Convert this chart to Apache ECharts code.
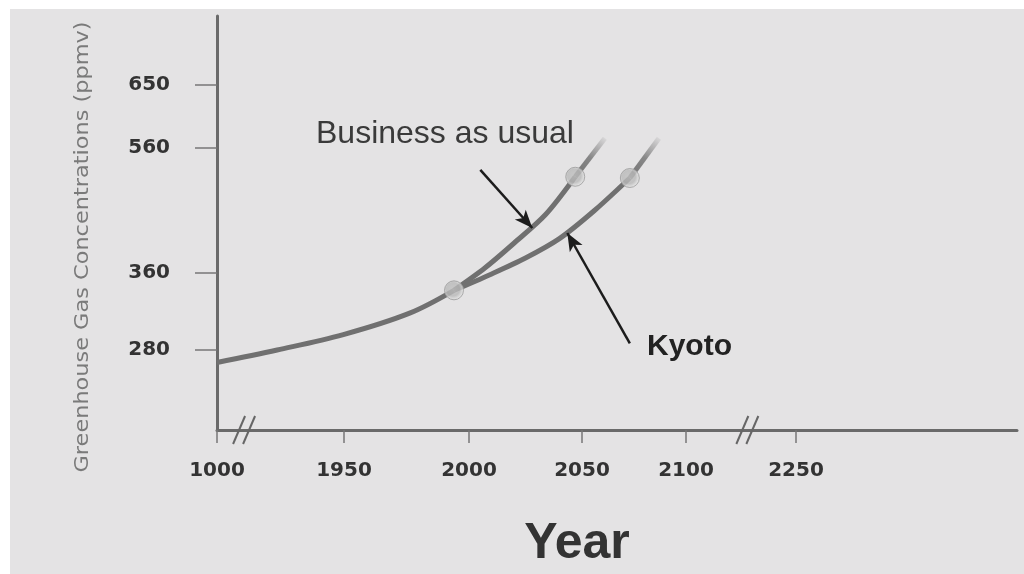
<!DOCTYPE html>
<html>
<head>
<meta charset="utf-8">
<script src="https://cdn.jsdelivr.net/npm/echarts@6/dist/echarts.min.js"></script>
<style>
html,body{margin:0;padding:0;background:#fff;}
#c{width:1024px;height:574px;background:#e4e3e4;box-shadow:inset 10px 9px 0 #fff;}
</style>
</head>
<body>
<div id="c"></div>
<script>
// ---- data ----
const yearTicks = [1000, 1950, 2000, 2050, 2100, 2250];
const ppmTicks = [280, 360, 560, 650];

const histYears = [1000, 1450, 1945, 1976, 1994];
const histPpm   = [267, 280, 296, 318, 342];

const bauYears = [1994, 2007, 2020, 2034, 2047];
const bauPpm   = [342, 368, 408, 454, 514];
const bauTailYears = [2047, 2061];
const bauTailPpm   = [514, 574];

const kyotoYears = [1994, 2009, 2025, 2040, 2056, 2073];
const kyotoPpm   = [342, 358, 384, 415, 460, 512];
const kyotoTailYears = [2073, 2087];
const kyotoTailPpm   = [512, 574];

const markerYears = [1994, 2047, 2073];
const markerPpm   = [342, 514, 512];

const axisBreakYears = [1210, 2185];

// ---- schematic (non-linear) axis scales ----
const xDomain = [1000, 1950, 2000, 2050, 2100, 2250, 2450];
const xUnits  = [0, 1.27, 2.52, 3.65, 4.69, 5.79, 8.0];
const yDomain = [197, 280, 360, 560, 650, 748];
const yUnits  = [0, 0.80, 1.57, 2.82, 3.45, 4.14];

function interp(v, d, r) {
  let i = 0;
  while (i < d.length - 2 && v > d[i + 1]) i++;
  return r[i] + (v - d[i]) / (d[i + 1] - d[i]) * (r[i + 1] - r[i]);
}
const fx = v => interp(v, xDomain, xUnits);
const fy = v => interp(v, yDomain, yUnits);
function labelFor(v, units, domain, ticks) {
  for (let i = 0; i < units.length; i++) {
    if (Math.abs(units[i] - v) < 1e-6 && ticks.indexOf(domain[i]) >= 0) return String(domain[i]);
  }
  return '';
}
const pts = (xs, ys) => xs.map((x, i) => [fx(x), fy(ys[i])]);

const lineColor = '#707070';
const fadeColor = {
  type: 'linear', x: 0, y: 1, x2: 1, y2: 0,
  colorStops: [{offset: 0, color: 'rgba(112,112,112,1)'}, {offset: 0.5, color: 'rgba(112,112,112,0.8)'}, {offset: 1, color: 'rgba(112,112,112,0)'}]
};

const chart = echarts.init(document.getElementById('c'));
chart.setOption({
  animation: false,
  grid: {left: 217, top: 16, width: 800, height: 414, containLabel: false},
  xAxis: {
    type: 'value', min: 0, max: xUnits[xUnits.length - 1],
    splitLine: {show: false},
    axisLine: {lineStyle: {color: '#6a6a6a', width: 3}},
    axisTick: {customValues: yearTicks.map(fx), length: 13, lineStyle: {color: '#777', width: 1.5}},
    axisLabel: {
      customValues: yearTicks.map(fx), margin: 31,
      formatter: v => labelFor(v, xUnits, xDomain, yearTicks),
      fontFamily: 'DejaVu Sans', fontWeight: 'bold', fontSize: 20, color: '#333'
    }
  },
  yAxis: {
    type: 'value', min: 0, max: yUnits[yUnits.length - 1],
    splitLine: {show: false},
    axisLine: {show: true, lineStyle: {color: '#6a6a6a', width: 3}},
    axisTick: {show: true, customValues: ppmTicks.map(fy), length: 22, lineStyle: {color: '#777', width: 1.5}},
    axisLabel: {
      customValues: ppmTicks.map(fy), margin: 47,
      formatter: v => labelFor(v, yUnits, yDomain, ppmTicks),
      fontFamily: 'DejaVu Sans', fontWeight: 'bold', fontSize: 20, color: '#333'
    }
  },
  graphic: [
    {type: 'text', x: 83, y: 247, rotation: Math.PI / 2, scaleX: 1.18,
     style: {text: 'Greenhouse Gas Concentrations (ppmv)', font: '19px "DejaVu Sans"', fill: '#7a7a7a',
             align: 'center', verticalAlign: 'middle'}},
    {type: 'text', x: 316, y: 134,
     style: {text: 'Business as usual', font: '32px "Liberation Sans"', fill: '#3a3a3a',
             align: 'left', verticalAlign: 'middle'}},
    {type: 'text', x: 647, y: 347,
     style: {text: 'Kyoto', font: 'bold 30px "Liberation Sans"', fill: '#222',
             align: 'left', verticalAlign: 'middle'}},
    {type: 'text', x: 577, y: 544,
     style: {text: 'Year', font: 'bold 50px "Liberation Sans"', fill: '#333',
             align: 'center', verticalAlign: 'middle'}}
  ],
  series: [
    {type: 'line', data: pts(histYears, histPpm), smooth: 0.35, showSymbol: false,
     lineStyle: {color: lineColor, width: 5}, z: 3},
    {type: 'line', data: pts(bauYears, bauPpm), smooth: 0.3, showSymbol: false,
     lineStyle: {color: lineColor, width: 5}, z: 3,
     markLine: {
       silent: true, symbol: ['none', 'arrow'], symbolSize: [11, 18],
       label: {show: false},
       lineStyle: {color: '#1c1c1c', width: 2.5, type: 'solid'},
       data: [
         [{coord: [fx(2005), fy(525)]}, {coord: [fx(2028), fy(432)]}],
         [{coord: [fx(2073), fy(287)]}, {coord: [fx(2043.5), fy(424)]}]
       ]
     }},
    {type: 'line', data: pts(kyotoYears, kyotoPpm), smooth: 0.3, showSymbol: false,
     lineStyle: {color: lineColor, width: 5}, z: 3},
    {type: 'line', data: pts(bauTailYears, bauTailPpm), showSymbol: false,
     lineStyle: {color: fadeColor, width: 5}, z: 3},
    {type: 'line', data: pts(kyotoTailYears, kyotoTailPpm), showSymbol: false,
     lineStyle: {color: fadeColor, width: 5}, z: 3},
    {type: 'scatter', data: pts(markerYears, markerPpm), symbol: 'circle', symbolSize: 19, z: 5,
     itemStyle: {
       color: {type: 'radial', x: 0.45, y: 0.45, r: 0.6,
               colorStops: [{offset: 0, color: '#c0c0c0'}, {offset: 0.55, color: '#b8b8b8'}, {offset: 1, color: '#f6f6f6'}]},
       borderColor: '#9a9a9a', borderWidth: 1
     }},
    {type: 'custom', z: 4, silent: true,
     data: axisBreakYears.map(y => [fx(y), 0]),
     renderItem: function (params, api) {
       const p = api.coord([api.value(0), 0]);
       const mk = dx => ({type: 'line',
         shape: {x1: p[0] + dx - 7, y1: p[1] + 14, x2: p[0] + dx + 5, y2: p[1] - 14},
         style: {stroke: '#666', lineWidth: 2}});
       return {type: 'group', children: [mk(-5), mk(5)]};
     }}
  ]
});
</script>
</body>
</html>
